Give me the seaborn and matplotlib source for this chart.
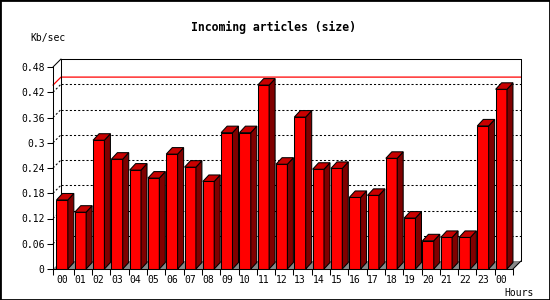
import numpy as np
import seaborn as sns
import matplotlib.pyplot as plt
from matplotlib.patches import Polygon, Rectangle

# data
hours = ["00", "01", "02", "03", "04", "05", "06", "07", "08", "09", "10", "11",
         "12", "13", "14", "15", "16", "17", "18", "19", "20", "21", "22", "23", "00"]
kb_sec = [0.164, 0.135, 0.306, 0.261, 0.235, 0.216, 0.273, 0.242, 0.208, 0.324,
          0.324, 0.437, 0.249, 0.361, 0.237, 0.239, 0.170, 0.175, 0.263, 0.121,
          0.067, 0.075, 0.075, 0.340, 0.427]
y_ticks = [0, 0.06, 0.12, 0.18, 0.24, 0.30, 0.36, 0.42, 0.48]
y_tick_labels = ["0", "0.06", "0.12", "0.18", "0.24", "0.3", "0.36", "0.42", "0.48"]

sns.set_style("white")
plt.rcParams["font.family"] = ["DejaVu Sans Mono"]
plt.rcParams.update({"text.color": "black", "axes.edgecolor": "black",
                     "xtick.color": "black", "ytick.color": "black",
                     "axes.labelcolor": "black"})

fig = plt.figure(figsize=(5.5, 3), dpi=100)
ax = fig.add_axes([53 / 550, 31 / 300, 460 / 550, 202 / 300])

pos = np.arange(len(kb_sec))
sns.barplot(x=pos, y=kb_sec, color="#ff0000", saturation=1, width=0.62,
            edgecolor="black", linewidth=0.75, ax=ax, zorder=3)
bars = list(ax.patches)

x0, x1 = -0.5, len(kb_sec) - 1 + 0.64
ymax = 0.48
ax.set_xlim(x0, x1)
ax.set_ylim(0, ymax)

# pixel depth -> data units
ux = (x1 - x0) / 460
uy = ymax / 202
bdx, bdy = 6 * ux, 6.5 * uy   # bar depth
wdx, wdy = 8 * ux, 8 * uy     # wall depth

# floor
ax.add_patch(Polygon([(x0, 0), (x1, 0), (x1 + wdx, wdy), (x0 + wdx, wdy)],
                     fc="#888888", ec="none", zorder=1, clip_on=False))

# back wall frame
kw = dict(color="black", lw=0.75, clip_on=False, zorder=2)
ax.plot([x0 + wdx, x0 + wdx], [wdy, ymax + wdy], **kw)
ax.plot([x0 + wdx, x1 + wdx], [ymax + wdy, ymax + wdy], **kw)
ax.plot([x1 + wdx, x1 + wdx], [wdy, ymax + wdy], **kw)
ax.plot([x1, x1 + wdx], [0, wdy], **kw)
ax.plot([x0, x0 + wdx], [ymax, ymax + wdy], **kw)

# dotted grid on back wall and left wall
for v in y_ticks[1:-1]:
    ax.plot([x0 + wdx, x1 + wdx], [v + wdy, v + wdy], color="black", lw=0.75,
            ls=(0, (2, 2)), clip_on=False, zorder=1.5)
    ax.plot([x0, x0 + wdx], [v, v + wdy], color="black", lw=0.75,
            ls=(0, (2, 2)), clip_on=False, zorder=1.5)

# max line
m = max(kb_sec)
ax.plot([x0, x0 + wdx, x1 + wdx], [m, m + wdy, m + wdy], color="red", lw=0.9,
        clip_on=False, zorder=1.8)

# 3D faces of bars
for p in bars:
    bx, w, h = p.get_x(), p.get_width(), p.get_height()
    ax.add_patch(Polygon([(bx + w, 0), (bx + w + bdx, bdy), (bx + w + bdx, h + bdy), (bx + w, h)],
                         fc="#800000", ec="black", lw=0.75, zorder=3, clip_on=False))
    ax.add_patch(Polygon([(bx, h), (bx + w, h), (bx + w + bdx, h + bdy), (bx + bdx, h + bdy)],
                         fc="#c80000", ec="black", lw=0.75, zorder=3, clip_on=False))

# axes and ticks
for s in ["top", "right"]:
    ax.spines[s].set_visible(False)
for s in ["left", "bottom"]:
    ax.spines[s].set_linewidth(0.75)
    ax.spines[s].set_zorder(4)

ax.set_yticks(y_ticks)
ax.set_yticklabels(y_tick_labels)
ax.set_xticks(pos)
ax.set_xticklabels(hours)
ax.set_xticks([x0] + list(pos + 0.64), minor=True)
ax.tick_params(axis="y", length=4, width=0.75, pad=2, labelsize=7, direction="out", left=True)
ax.tick_params(axis="x", which="major", length=0, pad=4, labelsize=7)
ax.tick_params(axis="x", which="minor", length=4, width=0.75, direction="out", bottom=True)
ax.set_xlabel("")
ax.set_ylabel("")
ax.patch.set_alpha(0)

fig.text(0.497, 1 - 27.5 / 300, "Incoming articles (size)", ha="center", va="center",
         fontsize=8.3, fontweight="bold")
fig.text(30 / 550, 1 - 37.5 / 300, "Kb/sec", ha="left", va="center", fontsize=7)
fig.text(519 / 550, 1 - 292.5 / 300, "Hours", ha="center", va="center", fontsize=7)

fig.add_artist(Rectangle((0, 0), 1, 1, transform=fig.transFigure, fill=False,
                         ec="black", lw=2))

fig.savefig("out.png", dpi=100)
